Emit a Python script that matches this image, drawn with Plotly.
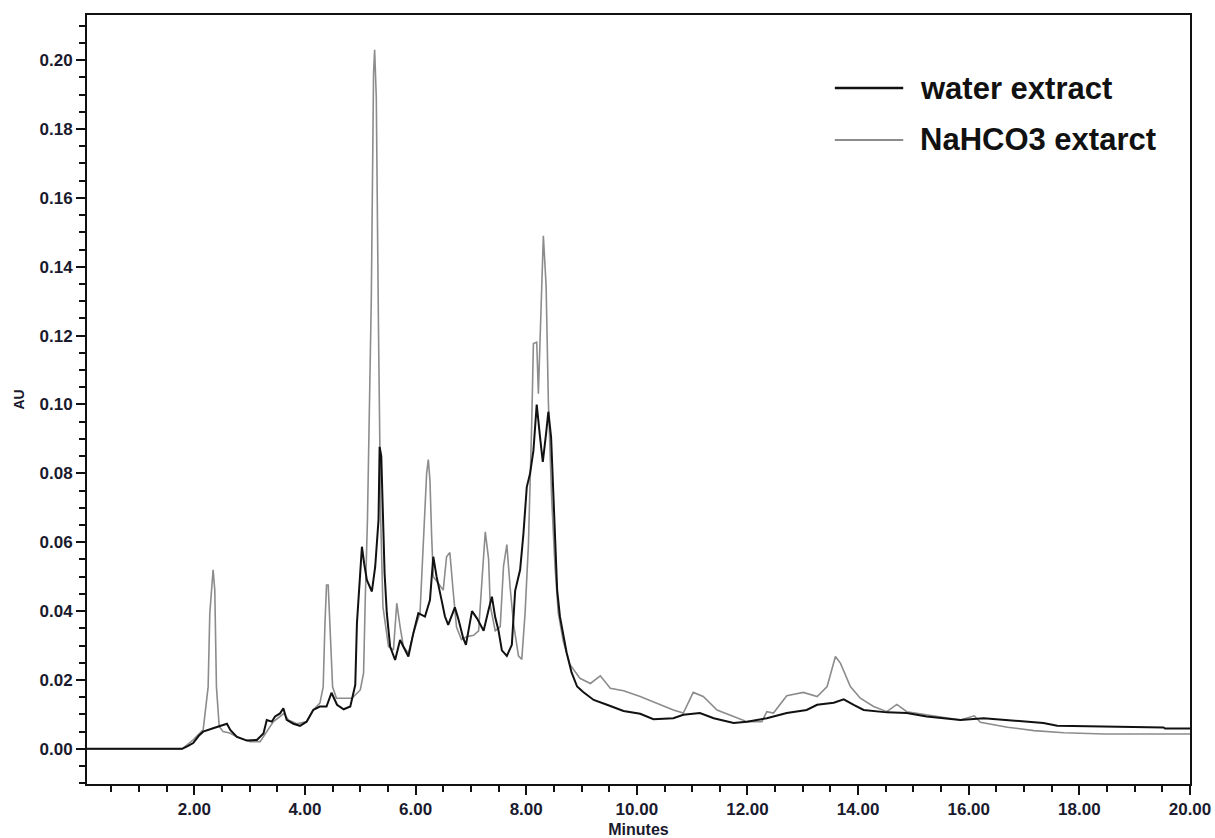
import plotly.graph_objects as go

# ---- data ----
water_min = [0.0, 1.78, 1.88, 1.98, 2.08, 2.16, 2.34, 2.45, 2.52, 2.59, 2.65, 2.77, 2.95, 3.13, 3.25, 3.31,
             3.40, 3.46, 3.55, 3.61, 3.67, 3.79, 3.91, 4.03, 4.15, 4.27, 4.39, 4.48, 4.58, 4.70, 4.82,
             4.91, 4.94, 5.00, 5.03, 5.07, 5.12, 5.21, 5.27, 5.33, 5.35, 5.38, 5.41, 5.44, 5.48, 5.54,
             5.63, 5.72, 5.81, 5.87, 5.96, 6.05, 6.17, 6.26, 6.32, 6.38, 6.47, 6.53, 6.59, 6.71, 6.77,
             6.86, 6.91, 7.02, 7.11, 7.23, 7.32, 7.38, 7.44, 7.50, 7.56, 7.65, 7.74, 7.80, 7.89, 7.95,
             8.01, 8.07, 8.13, 8.19, 8.25, 8.30, 8.36, 8.40, 8.45, 8.49, 8.52, 8.56, 8.61, 8.67, 8.73,
             8.82, 8.92, 9.03, 9.22, 9.46, 9.76, 10.06, 10.30, 10.66, 10.84, 11.14, 11.39, 11.75, 11.99,
             12.35, 12.71, 13.07, 13.26, 13.56, 13.74, 13.92, 14.10, 14.52, 14.88, 15.24, 15.85, 16.27,
             16.99, 17.35, 17.60, 19.52, 19.55, 20.0]
water_au = [0.0, 0.0, 0.0008, 0.0017, 0.0038, 0.0050, 0.0060, 0.0065, 0.0068, 0.0073, 0.0055, 0.0035, 0.0024,
            0.0026, 0.0045, 0.0084, 0.0079, 0.0094, 0.0103, 0.0118, 0.0084, 0.0073, 0.0067, 0.0079, 0.0113,
            0.0123, 0.0123, 0.0163, 0.0128, 0.0115, 0.0123, 0.0186, 0.0365, 0.0529, 0.0587, 0.0539, 0.0490,
            0.0457, 0.0529, 0.0665, 0.0877, 0.0850, 0.0660, 0.0510, 0.0394, 0.0297, 0.0258, 0.0316, 0.0287,
            0.0268, 0.0336, 0.0394, 0.0384, 0.0432, 0.0558, 0.0500, 0.0432, 0.0385, 0.0360, 0.0411, 0.0379,
            0.0322, 0.0302, 0.0400, 0.0379, 0.0343, 0.0404, 0.0442, 0.0382, 0.0343, 0.0286, 0.0270, 0.0302,
            0.0459, 0.0520, 0.0625, 0.0760, 0.0800, 0.0865, 0.1000, 0.0905, 0.0833, 0.0917, 0.0979, 0.0905,
            0.0740, 0.0572, 0.0460, 0.0384, 0.0326, 0.0280, 0.0222, 0.0181, 0.0165, 0.0142, 0.0128, 0.0110,
            0.0102, 0.0086, 0.0089, 0.0099, 0.0104, 0.0089, 0.0075, 0.0079, 0.0089, 0.0104, 0.0113, 0.0128,
            0.0134, 0.0144, 0.0128, 0.0113, 0.0106, 0.0104, 0.0094, 0.0084, 0.0089, 0.0079, 0.0075, 0.0067,
            0.0062, 0.0059, 0.0059]

nahco3_min = [0.0, 1.78, 1.98, 2.16, 2.25, 2.28, 2.34, 2.37, 2.40, 2.45, 2.52, 2.64, 2.76, 3.01, 3.19, 3.31,
              3.43, 3.55, 3.62, 3.70, 3.85, 4.03, 4.15, 4.27, 4.33, 4.36, 4.39, 4.42, 4.45, 4.50, 4.57,
              4.69, 4.85, 5.00, 5.06, 5.09, 5.13, 5.20, 5.24, 5.26, 5.29, 5.33, 5.37, 5.41, 5.51, 5.60,
              5.66, 5.72, 5.78, 5.87, 5.96, 6.08, 6.14, 6.20, 6.23, 6.26, 6.29, 6.32, 6.41, 6.50, 6.56,
              6.62, 6.68, 6.74, 6.83, 6.93, 7.05, 7.14, 7.20, 7.26, 7.32, 7.35, 7.44, 7.53, 7.59, 7.65,
              7.71, 7.77, 7.86, 7.92, 7.98, 8.04, 8.10, 8.13, 8.19, 8.22, 8.25, 8.31, 8.36, 8.40, 8.46,
              8.52, 8.58, 8.67, 8.79, 8.97, 9.16, 9.34, 9.52, 9.76, 10.06, 10.36, 10.66, 10.84, 11.02,
              11.20, 11.45, 11.75, 11.99, 12.26, 12.35, 12.47, 12.71, 13.01, 13.26, 13.44, 13.59, 13.68,
              13.86, 14.04, 14.28, 14.52, 14.70, 14.88, 15.48, 15.85, 16.10, 16.21, 16.70, 17.18, 17.72,
              18.45, 20.0]
nahco3_au = [0.0, 0.0, 0.0026, 0.0055, 0.0180, 0.0394, 0.0520, 0.0461, 0.0180, 0.0065, 0.0050, 0.0046,
             0.0036, 0.0021, 0.0021, 0.0050, 0.0079, 0.0094, 0.0103, 0.0084, 0.0073, 0.0079, 0.0113, 0.0133,
             0.0180, 0.0355, 0.0476, 0.0476, 0.0355, 0.0180, 0.0147, 0.0147, 0.0147, 0.0171, 0.0220, 0.0432,
             0.0665, 0.1310, 0.1960, 0.2030, 0.1890, 0.1210, 0.0665, 0.0413, 0.0297, 0.0287, 0.0423, 0.0355,
             0.0297, 0.0278, 0.0336, 0.0394, 0.0600, 0.0800, 0.0840, 0.0780, 0.0620, 0.0500, 0.0481, 0.0461,
             0.0558, 0.0570, 0.0457, 0.0354, 0.0317, 0.0326, 0.0330, 0.0343, 0.0489, 0.0630, 0.0552, 0.0416,
             0.0343, 0.0354, 0.0531, 0.0593, 0.0468, 0.0364, 0.0270, 0.0260, 0.0395, 0.0593, 0.0948, 0.1177,
             0.1181, 0.1031, 0.1185, 0.1490, 0.1344, 0.1010, 0.0729, 0.0531, 0.0395, 0.0312, 0.0245, 0.0205,
             0.0190, 0.0212, 0.0176, 0.0169, 0.0152, 0.0133, 0.0113, 0.0104, 0.0164, 0.0152, 0.0113, 0.0094,
             0.0079, 0.0079, 0.0108, 0.0104, 0.0154, 0.0164, 0.0152, 0.0181, 0.0268, 0.0249, 0.0181, 0.0147,
             0.0123, 0.0108, 0.0129, 0.0108, 0.0094, 0.0084, 0.0096, 0.0077, 0.0063, 0.0053, 0.0047, 0.0043,
             0.0043]

x_tick_vals = [2, 4, 6, 8, 10, 12, 14, 16, 18, 20]
x_tick_text = ["2.00", "4.00", "6.00", "8.00", "10.00", "12.00", "14.00", "16.00", "18.00", "20.00"]
y_tick_vals = [0.00, 0.02, 0.04, 0.06, 0.08, 0.10, 0.12, 0.14, 0.16, 0.18, 0.20]
y_tick_text = ["0.00", "0.02", "0.04", "0.06", "0.08", "0.10", "0.12", "0.14", "0.16", "0.18", "0.20"]
series_names = ["water extract", "NaHCO3 extarct"]

BLACK = "#111111"
GRAY = "#8c8c8c"
FONT = "Liberation Sans, Arial, sans-serif"

fig = go.Figure()
fig.add_trace(go.Scatter(x=nahco3_min, y=nahco3_au, mode="lines", name=series_names[1],
                         line=dict(color=GRAY, width=1.6), showlegend=False))
fig.add_trace(go.Scatter(x=water_min, y=water_au, mode="lines", name=series_names[0],
                         line=dict(color=BLACK, width=2.0), showlegend=False))

axis_common = dict(showline=True, linecolor=BLACK, linewidth=2, mirror=True, showgrid=False,
                   zeroline=False, ticks="outside", tickcolor=BLACK, tickwidth=2, ticklen=9,
                   automargin=False, ticklabeloverflow="allow",
                   tickfont=dict(family=FONT, size=17, color="#1a1a2e", weight="bold"))

fig.update_xaxes(range=[0.06, 20.0], tickmode="array", tickvals=x_tick_vals, ticktext=x_tick_text,
                 minor=dict(dtick=0.5, tick0=0, ticks="outside", ticklen=6, tickwidth=2, tickcolor=BLACK),
                 title=dict(text="Minutes", font=dict(family=FONT, size=16, color="#1a1a2e", weight="bold"),
                            standoff=9),
                 **axis_common)
fig.update_yaxes(range=[-0.0102, 0.2131], tickmode="array", tickvals=y_tick_vals, ticktext=y_tick_text,
                 minor=dict(dtick=0.005, tick0=0, ticks="outside", ticklen=6, tickwidth=2, tickcolor=BLACK),
                 title=dict(text="AU", font=dict(family=FONT, size=14, color="#1a1a2e", weight="bold"),
                            standoff=12),
                 **axis_common)

# legend drawn inside plot (line samples + labels)
legend_rows = [(0.905, BLACK, 2.5), (0.8375, GRAY, 2.0)]
for (yy, col, w), name in zip(legend_rows, series_names):
    fig.add_shape(type="line", xref="paper", yref="paper", x0=0.678, x1=0.740, y0=yy, y1=yy,
                  line=dict(color=col, width=w))
    fig.add_annotation(xref="paper", yref="paper", x=0.753, y=yy, text=name, showarrow=False,
                       xanchor="left", yanchor="middle",
                       font=dict(family=FONT, size=31, color="#111111", weight="bold"))

fig.update_layout(width=1215, height=838, margin=dict(l=87, r=25, t=15, b=54),
                  plot_bgcolor="white", paper_bgcolor="white", showlegend=False)

# remove the default 8px page margin so the 1215x838 figure fills the window exactly
fig.write_html("out.html", config={"displayModeBar": False},
               post_script="document.body.style.margin='0';")
